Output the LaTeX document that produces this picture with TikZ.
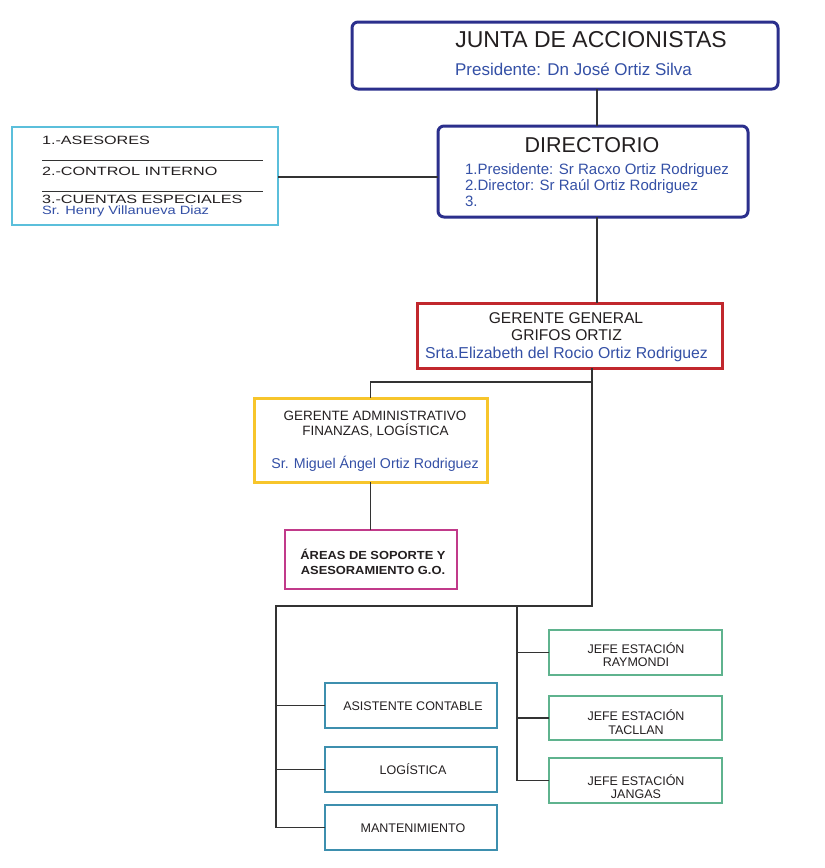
\documentclass[tikz,border=0pt]{standalone}
\usepackage{fontspec}
\setmainfont{Liberation Sans}
\newfontfamily\asesfont[FakeStretch=1.35]{Liberation Sans}
\newfontfamily\henryfont[FakeStretch=1.22]{Liberation Sans}
\newfontfamily\areafont[FakeStretch=1.1]{Liberation Sans}
\definecolor{navy}{HTML}{2B2F8C}
\definecolor{txtblue}{HTML}{3450A6}
\definecolor{txtdark}{HTML}{231F20}
\definecolor{cyanb}{HTML}{5BBFDB}
\definecolor{redb}{HTML}{C1272D}
\definecolor{yellowb}{HTML}{F7C52B}
\definecolor{magb}{HTML}{C13A8A}
\definecolor{tealb}{HTML}{3D8FAE}
\definecolor{greenb}{HTML}{5FB38E}
\definecolor{linec}{HTML}{333333}
\begin{document}
\begin{tikzpicture}[x=1pt,y=-1pt,
  conn/.style={draw=linec, line width=1.6pt},
  sepline/.style={draw=linec, line width=1.2pt},
  box/.style={draw, fill=white, inner sep=0pt, outer sep=0pt, anchor=north west},
  topbox/.style={box, draw=navy, line width=3pt, rounded corners=6pt},
  asesbox/.style={box, draw=cyanb, line width=2pt},
  ggbox/.style={box, draw=redb, line width=3pt},
  gabox/.style={box, draw=yellowb, line width=3pt},
  areabox/.style={box, draw=magb, line width=2pt},
  leftbox/.style={box, draw=tealb, line width=1.5pt, minimum width=172pt, minimum height=45pt},
  rightbox/.style={box, draw=greenb, line width=1.5pt, minimum width=173pt, minimum height=45pt},
  txt/.style={inner sep=0pt, outer sep=0pt, anchor=base, text=txtdark},
  btxt/.style={txt, text=txtblue},
  ltxt/.style={txt, anchor=base west},
  lbtxt/.style={btxt, anchor=base west},
  smalltxt/.style={txt, font=\fontsize{12.5}{14}\selectfont}
]
\useasboundingbox (0,0) rectangle (825,868);
\fill[white] (0,0) rectangle (825,868);

% coordinates for connector routing
\coordinate (sp) at (597,0);
\coordinate (ay) at (0,177);
\coordinate (b1) at (592,382);
\coordinate (b2) at (592,606);
\coordinate (lx) at (276,606);
\coordinate (rx) at (517,606);

\node[topbox, minimum width=426pt, minimum height=67pt] (junta) at (352,22) {};
\node[topbox, minimum width=310pt, minimum height=91pt] (dir) at (438,126) {};
\node[asesbox, minimum width=266pt, minimum height=98pt] (ases) at (12,127) {};
\node[ggbox, minimum width=305pt, minimum height=65pt] (gg) at (417,303) {};
\node[gabox, minimum width=233pt, minimum height=84pt] (ga) at (254,398) {};
\node[areabox, minimum width=172pt, minimum height=59pt] (areas) at (285,530) {};
\node[leftbox] (ac) at (325,683) {};
\node[leftbox] (log) at (325,747) {};
\node[leftbox] (mant) at (325,805) {};
\node[rightbox] (ray) at (549,630) {};
\node[rightbox, minimum height=44pt] (tac) at (549,696) {};
\node[rightbox] (jan) at (549,758) {};

\draw[conn] (junta.south -| sp) -- (dir.north -| sp);
\draw[conn] (dir.south -| sp) -- (gg.north -| sp);
\draw[conn] (ases.east |- ay) -- (dir.west |- ay);
\draw[conn] (gg.south -| b1) -- (b1) -| (ga.north);
\draw[conn] (ga.south) -- (ga.south |- areas.north);
\draw[conn] (b1) -- (b2) -- (lx) -- (lx |- mant.west) -- (mant.west);
\draw[conn] (lx |- ac.west) -- (ac.west);
\draw[conn] (lx |- log.west) -- (log.west);
\draw[conn] (rx) -- (rx |- jan.west) -- (jan.west);
\draw[conn] (rx |- ray.west) -- (ray.west);
\draw[conn] (rx |- tac.west) -- (tac.west);

% Junta
\node[txt, font=\fontsize{23}{27}\selectfont] (jt) at (591,47) {JUNTA DE ACCIONISTAS};
\node[btxt, font=\fontsize{17}{20}\selectfont] (jp) at (573.5,75) {Presidente: Dn José Ortiz Silva};

% Directorio
\node[txt, font=\fontsize{21.5}{25}\selectfont] (dt) at (592,152) {DIRECTORIO};
\node[lbtxt, font=\fontsize{15}{17}\selectfont] (d1) at (465,174) {1.Presidente: Sr Racxo Ortiz Rodriguez};
\node[lbtxt, font=\fontsize{15}{17}\selectfont] (d2) at (465,190.5) {2.Director: Sr Raúl Ortiz Rodriguez};
\node[lbtxt, font=\fontsize{15}{17}\selectfont] (d3) at (465,206) {3.};

% Asesores
\node[ltxt, font=\asesfont\fontsize{12}{14}\selectfont] (a1) at (42,144) {1.-ASESORES};
\draw[sepline] (42,160.7) -- (263,160.7);
\node[ltxt, font=\asesfont\fontsize{12}{14}\selectfont] (a2) at (42,175) {2.-CONTROL INTERNO};
\draw[sepline] (42,191.7) -- (263,191.7);
\node[ltxt, font=\asesfont\fontsize{12}{14}\selectfont] (a3) at (42,203.3) {3.-CUENTAS ESPECIALES};
\node[lbtxt, font=\henryfont\fontsize{12}{14}\selectfont] (a4) at (42,214.5) {Sr. Henry Villanueva Diaz};

% Gerente general
\node[txt, font=\fontsize{15.6}{18}\selectfont] (g1) at (566,323.3) {GERENTE GENERAL};
\node[txt, font=\fontsize{15.6}{18}\selectfont] (g2) at (566.5,340.7) {GRIFOS ORTIZ};
\node[btxt, font=\fontsize{15.8}{18}\selectfont] (g3) at (566.5,358.3) {Srta.Elizabeth del Rocio Ortiz Rodriguez};

% Gerente administrativo
\node[txt, font=\fontsize{13.5}{15}\selectfont] (ga1) at (375,420) {GERENTE ADMINISTRATIVO};
\node[txt, font=\fontsize{13.5}{15}\selectfont] (ga2) at (375.5,435) {FINANZAS, LOGÍSTICA};
\node[btxt, font=\fontsize{14.2}{16}\selectfont] (ga3) at (375,468) {Sr. Miguel Ángel Ortiz Rodriguez};

% Areas
\node[txt, font=\areafont\bfseries\fontsize{11.7}{14}\selectfont] (ar1) at (373,559.5) {ÁREAS DE SOPORTE Y};
\node[txt, font=\areafont\bfseries\fontsize{11.7}{14}\selectfont] (ar2) at (373,574.3) {ASESORAMIENTO G.O.};

% left boxes text
\node[smalltxt] (act) at (413,710.5) {ASISTENTE CONTABLE};
\node[smalltxt] (logt) at (413,774) {LOGÍSTICA};
\node[smalltxt] (mantt) at (413,832) {MANTENIMIENTO};

% right boxes text
\node[smalltxt] (r1) at (636,653.3) {JEFE ESTACIÓN};
\node[smalltxt] (r2) at (636,666.7) {RAYMONDI};
\node[smalltxt] (t1) at (636,720.7) {JEFE ESTACIÓN};
\node[smalltxt] (t2) at (636,734) {TACLLAN};
\node[smalltxt] (j1) at (636,785) {JEFE ESTACIÓN};
\node[smalltxt] (j2) at (636,798.5) {JANGAS};
\end{tikzpicture}
\end{document}
